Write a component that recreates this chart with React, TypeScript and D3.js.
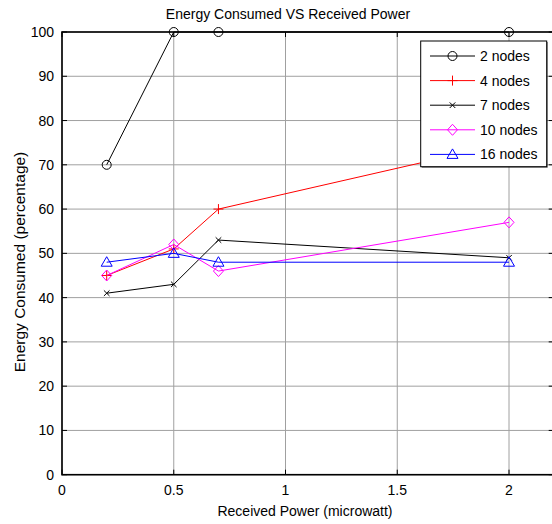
import React, { useEffect } from "react";
import * as d3 from "d3";

const xValues = [0.2, 0.5, 0.7, 2];
const seriesNames = ["2 nodes", "4 nodes", "7 nodes", "10 nodes", "16 nodes"];
const nodes2 = [70, 100, 100, 100];
const nodes4 = [45, 51, 60, 75];
const nodes7 = [41, 43, 53, 49];
const nodes10 = [45, 52, 46, 57];
const nodes16 = [48, 50, 48, 48];
const xTicks = [0, 0.5, 1, 1.5, 2];
const yTicks = [0, 10, 20, 30, 40, 50, 60, 70, 80, 90, 100];

const colors = ["#000000", "#ff0000", "#000000", "#ff00ff", "#0000ff"];
const markers = ["circle", "plus", "cross", "diamond", "triangle"];
const seriesData = [nodes2, nodes4, nodes7, nodes10, nodes16];

const W = 552;
const H = 524;
const left = 62;
const right = 553.7;
const top = 32;
const bottom = 474.7;
const FONT = "'Liberation Sans', Arial, Helvetica, sans-serif";

function Marker({ type, x, y, color }: { type: string; x: number; y: number; color: string }) {
  if (type === "circle") return <circle cx={x} cy={y} r={4.5} fill="none" stroke={color} strokeWidth={1} />;
  if (type === "plus")
    return (
      <path d={`M${x - 5},${y}H${x + 5}M${x},${y - 5}V${y + 5}`} stroke={color} strokeWidth={1} fill="none" />
    );
  if (type === "cross")
    return (
      <path
        d={`M${x - 2.8},${y - 2.8}L${x + 2.8},${y + 2.8}M${x - 2.8},${y + 2.8}L${x + 2.8},${y - 2.8}`}
        stroke={color}
        strokeWidth={1}
        fill="none"
      />
    );
  if (type === "diamond")
    return <path d={`M${x},${y - 5.5}L${x + 5},${y}L${x},${y + 5.5}L${x - 5},${y}Z`} stroke={color} strokeWidth={1} fill="none" />;
  return <path d={`M${x},${y - 5.5}L${x + 5.5},${y + 4}L${x - 5.5},${y + 4}Z`} stroke={color} strokeWidth={1} fill="none" />;
}

export default function App() {
  useEffect(() => {
    document.body.style.margin = "0";
  }, []);
  const xs = d3.scaleLinear().domain([0, 2.2]).range([left, right]);
  const ys = d3.scaleLinear().domain([0, 100]).range([bottom, top]);
  const line = d3
    .line<[number, number]>()
    .x((d) => xs(d[0]))
    .y((d) => ys(d[1]));

  const legX = 420.7;
  const legY = 41;
  const legW = 126;
  const legH = 125.7;
  const rowY = (i: number) => 56 + i * 24.6;

  return (
    <svg width={W} height={H} style={{ display: "block", position: "absolute", left: 0, top: 0, background: "#fff" }}>
      <rect x={0} y={0} width={W} height={H} fill="#fff" />
      {/* grid */}
      {xTicks.map((t) => (
        <line key={"gx" + t} x1={xs(t)} x2={xs(t)} y1={top} y2={bottom} stroke="#a0a0a0" strokeWidth={1} />
      ))}
      {yTicks.map((t) => (
        <line key={"gy" + t} x1={left} x2={right} y1={ys(t)} y2={ys(t)} stroke="#a0a0a0" strokeWidth={1} />
      ))}
      {/* ticks */}
      {xTicks.map((t) => (
        <g key={"tx" + t}>
          <line x1={xs(t)} x2={xs(t)} y1={bottom} y2={bottom - 5} stroke="#000" />
          <line x1={xs(t)} x2={xs(t)} y1={top} y2={top + 5} stroke="#000" />
          <text x={xs(t)} y={495} textAnchor="middle" fontFamily={FONT} fontSize={14} fill="#000">
            {t}
          </text>
        </g>
      ))}
      {yTicks.map((t) => (
        <g key={"ty" + t}>
          <line x1={left} x2={left + 5} y1={ys(t)} y2={ys(t)} stroke="#000" />
          <line x1={right} x2={right - 5} y1={ys(t)} y2={ys(t)} stroke="#000" />
          <text x={54} y={ys(t) + 5} textAnchor="end" fontFamily={FONT} fontSize={14} fill="#000">
            {t}
          </text>
        </g>
      ))}
      {/* axes box */}
      <rect x={left} y={top} width={right - left} height={bottom - top} fill="none" stroke="#000" strokeWidth={1.6} />
      {/* series */}
      {seriesData.map((vals, i) => {
        const pts: [number, number][] = xValues.map((x, j) => [x, vals[j]]);
        return (
          <g key={"s" + i}>
            <path d={line(pts) || ""} fill="none" stroke={colors[i]} strokeWidth={1} />
            {pts.map((p, j) => (
              <Marker key={j} type={markers[i]} x={xs(p[0])} y={ys(p[1])} color={colors[i]} />
            ))}
          </g>
        );
      })}
      {/* legend */}
      <rect x={legX + 1} y={legY + 1} width={legW} height={legH} fill="#000" opacity={0.6} />
      <rect x={legX} y={legY} width={legW} height={legH} fill="#fff" stroke="#000" strokeWidth={1} />
      {seriesNames.map((name, i) => (
        <g key={"l" + i}>
          <line x1={430} x2={475} y1={rowY(i)} y2={rowY(i)} stroke={colors[i]} strokeWidth={1} />
          <Marker type={markers[i]} x={452.5} y={rowY(i)} color={colors[i]} />
          <text x={480} y={rowY(i) + 5} fontFamily={FONT} fontSize={14} fill="#000">
            {name}
          </text>
        </g>
      ))}
      {/* titles */}
      <text x={288} y={19} textAnchor="middle" fontFamily={FONT} fontSize={14} fill="#000">
        Energy Consumed VS Received Power
      </text>
      <text x={305} y={516} textAnchor="middle" fontFamily={FONT} fontSize={14} fill="#000">
        Received Power (microwatt)
      </text>
      <text
        transform={`translate(25,262) rotate(-90)`}
        textAnchor="middle"
        fontFamily={FONT}
        fontSize={15.5}
        fill="#000"
      >
        Energy Consumed (percentage)
      </text>
    </svg>
  );
}
